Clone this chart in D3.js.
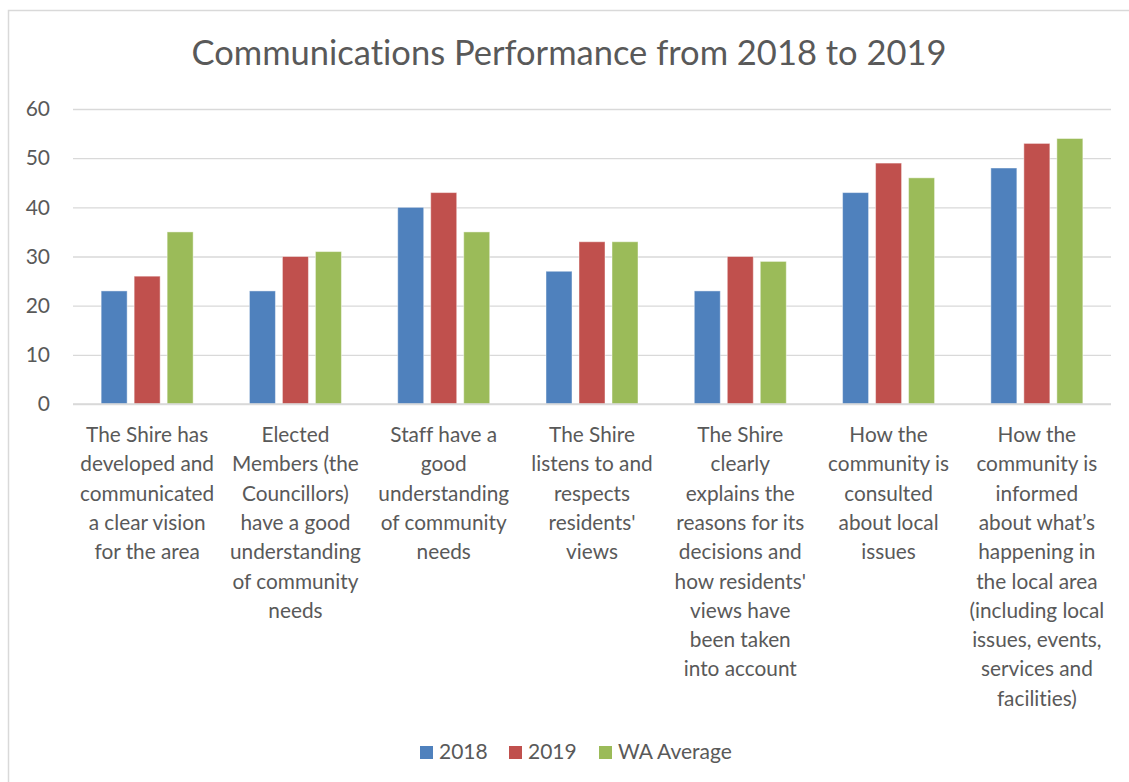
<!DOCTYPE html>
<html>
<head>
<meta charset="utf-8">
<script src="https://cdn.jsdelivr.net/npm/d3@7"></script>
<style>
  html, body { margin: 0; padding: 0; background: #fff; }
  svg { display: block; font-family: Lato, "Open Sans", sans-serif; font-variant-ligatures: none; }
</style>
</head>
<body>
<div id="chart"></div>
<script>
// data
const categories = [
  ["The Shire has", "developed and", "communicated", "a clear vision", "for the area"],
  ["Elected", "Members (the", "Councillors)", "have a good", "understanding", "of community", "needs"],
  ["Staff have a", "good", "understanding", "of community", "needs"],
  ["The Shire", "listens to and", "respects", "residents'", "views"],
  ["The Shire", "clearly", "explains the", "reasons for its", "decisions and", "how residents'", "views have", "been taken", "into account"],
  ["How the", "community is", "consulted", "about local", "issues"],
  ["How the", "community is", "informed", "about what\u2019s", "happening in", "the local area", "(including local", "issues, events,", "services and", "facilities)"]
];
const seriesNames = ["2018", "2019", "WA Average"];
const values2018 = [23, 23, 40, 27, 23, 43, 48];
const values2019 = [26, 30, 43, 33, 30, 49, 53];
const valuesWA = [35, 31, 35, 33, 29, 46, 54];
const yTicks = [0, 10, 20, 30, 40, 50, 60];
const colors = ["#4F81BD", "#C0504D", "#9BBB59"];
const title = "Communications Performance from 2018 to 2019";

const width = 1129, height = 782;
const plot = { left: 73, right: 1111, top: 109, bottom: 404 };
const textColor = "#595959";

const svg = d3.select("#chart").append("svg")
  .attr("width", width)
  .attr("height", height);

// chart area border (only top/left visible in the crop)
svg.append("rect")
  .attr("x", 8.5).attr("y", 10.5)
  .attr("width", width + 20).attr("height", height + 20)
  .attr("fill", "#fff")
  .attr("stroke", "#D9D9D9")
  .attr("stroke-width", 1.5);

svg.append("text")
  .attr("x", 569)
  .attr("y", 65)
  .attr("text-anchor", "middle")
  .attr("font-size", "34.5px")
  .attr("fill", textColor)
  .text(title);

const x0 = d3.scaleBand()
  .domain(d3.range(categories.length))
  .range([plot.left, plot.right]);

const groupW = 92;
const x1 = d3.scaleBand()
  .domain(d3.range(seriesNames.length))
  .range([0, groupW])
  .paddingInner(0.212);

const y = d3.scaleLinear()
  .domain([0, 60])
  .range([plot.bottom, plot.top]);

// gridlines + tick labels
const yAxis = svg.append("g")
  .attr("transform", `translate(${plot.left},0)`)
  .call(d3.axisLeft(y)
    .tickValues(yTicks)
    .tickSizeInner(-(plot.right - plot.left))
    .tickSizeOuter(0)
    .tickPadding(23));

yAxis.select(".domain").remove();
yAxis.selectAll(".tick line")
  .attr("stroke", "#D9D9D9")
  .attr("stroke-width", 1.4);
yAxis.selectAll(".tick text")
  .attr("fill", textColor)
  .attr("font-size", "21px")
  .attr("font-family", "Lato, sans-serif");

// bars
const allValues = [values2018, values2019, valuesWA];
const barData = [];
categories.forEach((c, i) => {
  allValues.forEach((vals, s) => barData.push({ cat: i, s, v: vals[i] }));
});

svg.append("g").selectAll("rect")
  .data(barData)
  .join("rect")
  .attr("x", d => x0(d.cat) + (x0.bandwidth() - groupW) / 2 + x1(d.s))
  .attr("y", d => y(d.v))
  .attr("width", x1.bandwidth())
  .attr("height", d => y(0) - y(d.v))
  .attr("fill", d => colors[d.s])
  .attr("stroke", "#fff")
  .attr("stroke-opacity", 0.45)
  .attr("stroke-width", 1);

// baseline redrawn over bars
svg.append("line")
  .attr("x1", plot.left).attr("x2", plot.right)
  .attr("y1", y(0)).attr("y2", y(0))
  .attr("stroke", "#D9D9D9")
  .attr("stroke-width", 1.4);

// category labels
const lineH = 29.3;
const labels = svg.append("g").selectAll("text")
  .data(categories)
  .join("text")
  .attr("x", (d, i) => x0(i) + x0.bandwidth() / 2)
  .attr("y", 442)
  .attr("text-anchor", "middle")
  .attr("font-size", "20.8px")
  .attr("fill", textColor);

labels.selectAll("tspan")
  .data(d => d)
  .join("tspan")
  .attr("x", function() { return this.parentNode.getAttribute("x"); })
  .attr("dy", (d, i) => i === 0 ? 0 : lineH)
  .text(d => d);

// legend
const legendX = [420, 509, 599];
const legend = svg.append("g").selectAll("g")
  .data(seriesNames)
  .join("g")
  .attr("transform", (d, i) => `translate(${legendX[i]},746)`);

legend.append("rect")
  .attr("width", 13).attr("height", 13)
  .attr("fill", (d, i) => colors[i]);

legend.append("text")
  .attr("x", 19)
  .attr("y", 13)
  .attr("font-size", "21px")
  .attr("fill", textColor)
  .text(d => d);
</script>
</body>
</html>
